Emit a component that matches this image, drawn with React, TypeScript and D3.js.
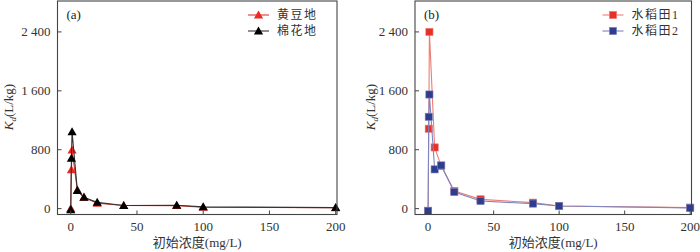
import React from 'react';
import * as d3 from 'd3';

// initial concentration (mg/L)
const conc = [0, 0.5, 1, 5, 10, 20, 40, 80, 100, 200];

// panel (a)
const soybean = [0, 526, 796, 250, 155, 72, 42, 40, 18, 12];
const cotton = [-15, 684, 1043, 247, 152, 85, 42, 45, 23, 13];

// panel (b)
const paddy1 = [-30, 1085, 2400, 831, 578, 240, 126, 81, 35, 14];
const paddy2 = [-30, 1247, 1550, 533, 587, 225, 103, 68, 35, 10];

const xTicks = [0, 50, 100, 150, 200];
const yTicks = [0, 800, 1600, 2400];
const yTickLabels = ['0', '800', '1 600', '2 400'];

const serif = '"Liberation Serif", "DejaVu Serif", serif';
const cjk = '"Liberation Serif", "Noto Sans CJK SC", serif';

type Series = {
  name: string;
  values: number[];
  line: string;
  fill: string;
  shape: 'tri' | 'sq';
};

const panels: { tag: string; left: number; right: number; series: Series[]; labelX: number }[] = [
  {
    tag: '(a)',
    left: 57.5,
    right: 337,
    labelX: 9,
    series: [
      { name: '黄豆地', values: soybean, line: '#d83a32', fill: '#ee2a24', shape: 'tri' },
      { name: '棉花地', values: cotton, line: '#333333', fill: '#000000', shape: 'tri' },
    ],
  },
  {
    tag: '(b)',
    left: 415,
    right: 691.5,
    labelX: 371,
    series: [
      { name: '水稻田1', values: paddy1, line: '#f07c74', fill: '#e6302a', shape: 'sq' },
      { name: '水稻田2', values: paddy2, line: '#7d86bf', fill: '#2e3e8e', shape: 'sq' },
    ],
  },
];

const top = 1;
const bottom = 214.5;

const Marker = ({ x, y, s }: { x: number; y: number; s: Series }) => {
  if (s.shape === 'tri') {
    const r = 4.6;
    return (
      <path
        d={`M${x},${y - r}L${x + r},${y + r * 0.75}L${x - r},${y + r * 0.75}Z`}
        fill={s.fill}
      />
    );
  }
  const h = 3.6;
  return <rect x={x - h} y={y - h} width={h * 2} height={h * 2} fill={s.fill} stroke={s.line} strokeWidth={0.6} />;
};

const Panel = ({ p }: { p: (typeof panels)[number] }) => {
  const x = d3.scaleLinear().domain([-10, 201]).range([p.left, p.right]);
  const y = d3.scaleLinear().domain([-80, 2820]).range([bottom, top]);
  const line = d3
    .line<number>()
    .x((_, i) => x(conc[i]))
    .y((d) => y(d));
  const midX = (p.left + p.right) / 2;
  const legX = p.right - 89;

  return (
    <g>
      {p.series.map((s) => (
        <g key={s.name}>
          <path d={line(s.values) ?? ''} fill="none" stroke={s.line} strokeWidth={1.1} />
          {s.values.map((v, i) => (
            <Marker key={i} x={x(conc[i])} y={y(v)} s={s} />
          ))}
        </g>
      ))}

      <rect
        x={p.left}
        y={top}
        width={p.right - p.left}
        height={bottom - top}
        fill="none"
        stroke="#444"
        strokeWidth={1.1}
      />

      {xTicks.map((t) => (
        <g key={t}>
          <line x1={x(t)} x2={x(t)} y1={bottom} y2={bottom - 4} stroke="#444" />
          <text x={x(t)} y={231} textAnchor="middle" fontFamily={serif} fontSize={13} fill="#333">
            {t}
          </text>
        </g>
      ))}
      {yTicks.map((t, i) => (
        <g key={t}>
          <line x1={p.left} x2={p.left + 4} y1={y(t)} y2={y(t)} stroke="#444" />
          <text
            x={p.left - 7}
            y={y(t)}
            dy="0.35em"
            textAnchor="end"
            fontFamily={serif}
            fontSize={13}
            fill="#333"
          >
            {yTickLabels[i]}
          </text>
        </g>
      ))}

      <text x={p.left + 9} y={19} fontFamily={serif} fontSize={13} fill="#222">
        {p.tag}
      </text>

      <text x={midX} y={247} textAnchor="middle" fontFamily={cjk} fontSize={13} fill="#333">
        初始浓度(mg/L)
      </text>
      <text
        transform={`translate(${p.labelX + 4},107) rotate(-90)`}
        textAnchor="middle"
        fontFamily={serif}
        fontSize={13}
        fill="#333"
      >
        <tspan fontStyle="italic">K</tspan>
        <tspan fontStyle="italic" fontSize={9} dy={3}>d</tspan>
        <tspan dy={-3}>(L/kg)</tspan>
      </text>

      {p.series.map((s, i) => {
        const ly = 15 + i * 16;
        return (
          <g key={s.name}>
            <line x1={legX} x2={legX + 21} y1={ly} y2={ly} stroke={s.line} strokeWidth={1.1} />
            <Marker x={legX + 10.5} y={ly} s={s} />
            <text
              x={legX + 29}
              y={ly}
              dy="0.35em"
              fontFamily={cjk}
              fontSize={12}
              letterSpacing={1.5}
              fill="#333"
            >
              {s.name}
            </text>
          </g>
        );
      })}
    </g>
  );
};

export default function App() {
  return (
    <div style={{ position: 'absolute', left: 0, top: 0 }}>
      <svg width={700} height={252} style={{ display: 'block', background: '#fff' }}>
        {panels.map((p) => (
          <Panel key={p.tag} p={p} />
        ))}
      </svg>
    </div>
  );
}
